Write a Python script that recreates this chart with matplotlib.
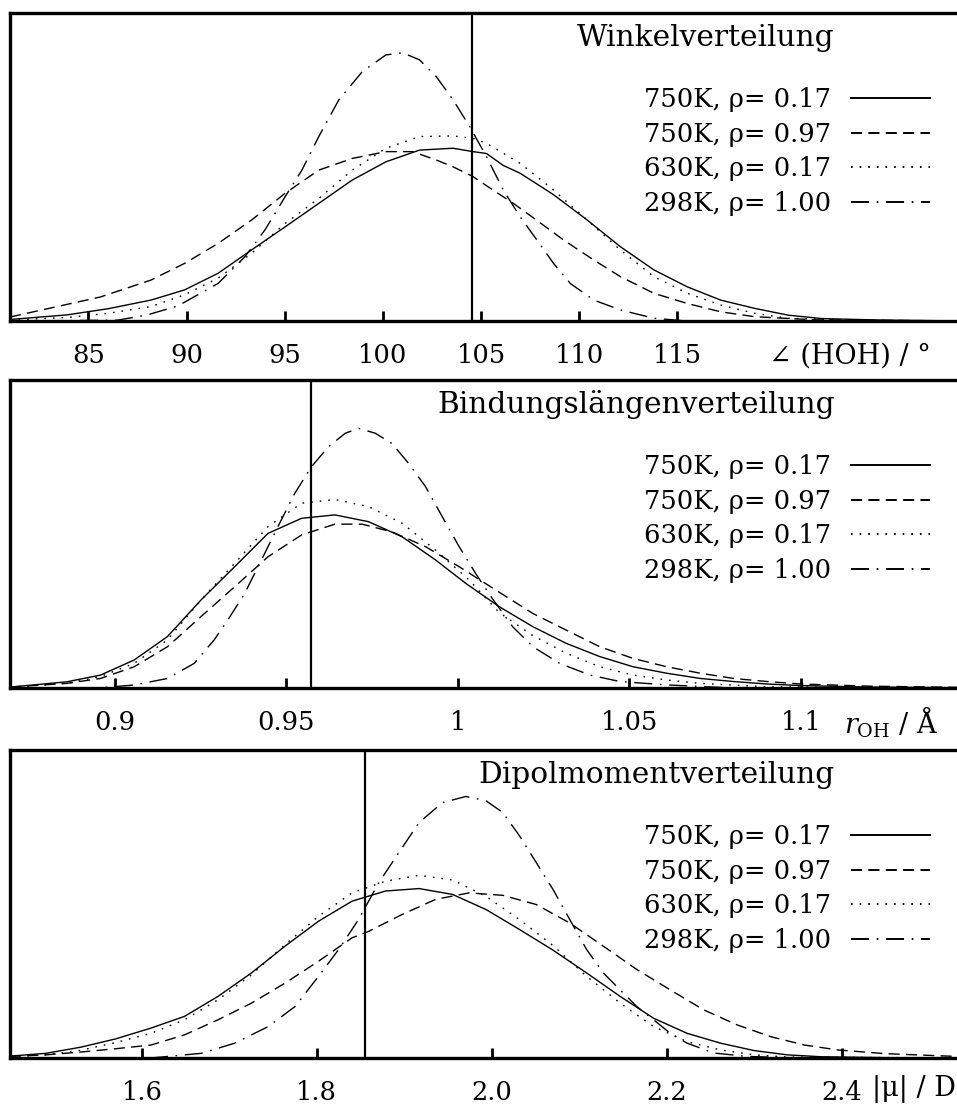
import matplotlib
matplotlib.use("Agg")
import matplotlib.pyplot as plt
from matplotlib.lines import Line2D

plt.rcParams["font.family"] = ["DejaVu Serif", "DejaVu Sans"]
plt.rcParams["mathtext.fontset"] = "dejavuserif"
plt.rcParams["lines.scale_dashes"] = False

# labels of the four simulations
labels = ["750K, ρ= 0.17", "750K, ρ= 0.97", "630K, ρ= 0.17", "298K, ρ= 1.00"]

# --- angle distribution (HOH angle in degrees) ---
ang_x_a = [81, 83.9, 86, 88.18, 89.89, 91.6, 93.31, 95.02, 96.73, 98.44, 100.15, 101.86, 103.57, 104.59, 105.27,
           106.13, 106.98, 107.84, 108.69, 110.4, 112.1, 113.8, 115.5, 117.2, 118.94, 120.65, 122.36, 125.5, 130]
ang_y_a = [0.005, 0.02, 0.04, 0.068, 0.101, 0.155, 0.231, 0.306, 0.382, 0.458, 0.517, 0.555, 0.561, 0.55, 0.544,
           0.505, 0.48, 0.445, 0.41, 0.328, 0.241, 0.166, 0.111, 0.068, 0.041, 0.019, 0.008, 0.003, 0.0]
ang_x_b = [81, 82.2, 85.6, 88.18, 89.89, 91.6, 93.31, 95.02, 96.73, 98.44, 100.15, 101.5, 102.71, 103.56, 104.58,
           105.61, 106.64, 107.66, 109.2, 110.74, 112.1, 113.8, 115.5, 117.2, 118.94, 122, 130]
ang_y_b = [0.013, 0.03, 0.078, 0.133, 0.187, 0.252, 0.328, 0.415, 0.49, 0.528, 0.55, 0.55, 0.523, 0.501, 0.469,
           0.425, 0.382, 0.335, 0.263, 0.198, 0.144, 0.09, 0.057, 0.03, 0.014, 0.004, 0.0]
ang_x_c = [81, 84, 86, 88.18, 89.89, 91.6, 93.31, 95.02, 96.73, 98.44, 100.15, 101.86, 103.57, 104.59, 105.27,
           106.13, 106.98, 107.84, 108.69, 110.4, 112.1, 113.8, 115.5, 117.2, 118.94, 120.65, 124, 130]
ang_y_c = [0.003, 0.012, 0.025, 0.047, 0.085, 0.139, 0.22, 0.317, 0.398, 0.49, 0.561, 0.599, 0.601, 0.593, 0.577,
           0.545, 0.512, 0.469, 0.425, 0.328, 0.23, 0.144, 0.09, 0.052, 0.025, 0.009, 0.002, 0.0]
ang_x_d = [81, 86.5, 88, 89.55, 91.6, 92.97, 93.99, 95.02, 95.87, 96.73, 97.75, 98.95, 100.15, 101.0, 101.86,
           102.71, 103.57, 104.42, 105.27, 106.13, 106.98, 107.84, 108.69, 109.54, 110.74, 112.1, 113.8, 115.5, 130]
ang_y_d = [0.0, 0.003, 0.02, 0.049, 0.122, 0.209, 0.296, 0.404, 0.49, 0.599, 0.718, 0.81, 0.864, 0.871, 0.848,
           0.794, 0.718, 0.631, 0.534, 0.425, 0.339, 0.263, 0.187, 0.122, 0.068, 0.036, 0.009, 0.0, 0.0]

# --- bond length distribution (r_OH in Angstrom) ---
bond_x_a = [0.8695, 0.886, 0.8959, 0.9057, 0.9154, 0.9252, 0.935, 0.9447, 0.9545, 0.9642, 0.974, 0.9838, 0.9935,
            1.0023, 1.0121, 1.0219, 1.0316, 1.0414, 1.0511, 1.0609, 1.0707, 1.0804, 1.0902, 1.1, 1.12, 1.147]
bond_y_a = [0.003, 0.02, 0.042, 0.091, 0.167, 0.286, 0.394, 0.502, 0.551, 0.562, 0.54, 0.491, 0.416,
            0.34, 0.264, 0.199, 0.145, 0.102, 0.069, 0.048, 0.031, 0.021, 0.013, 0.008, 0.003, 0.001]
bond_x_b = [0.8695, 0.886, 0.8959, 0.9057, 0.9154, 0.9252, 0.935, 0.9447, 0.9545, 0.9642, 0.9721, 0.9808, 0.9906,
            1.0004, 1.0101, 1.0219, 1.0316, 1.0414, 1.0511, 1.0609, 1.0707, 1.0804, 1.0902, 1.1, 1.12, 1.147]
bond_y_b = [0.003, 0.015, 0.031, 0.069, 0.134, 0.232, 0.329, 0.426, 0.497, 0.532, 0.532, 0.507, 0.459,
            0.394, 0.325, 0.242, 0.188, 0.134, 0.096, 0.069, 0.048, 0.031, 0.021, 0.013, 0.006, 0.002]
bond_x_c = [0.8695, 0.886, 0.8959, 0.9057, 0.9154, 0.9252, 0.935, 0.9447, 0.9545, 0.9642, 0.974, 0.9838, 0.9935,
            1.0033, 1.0121, 1.0219, 1.0316, 1.0414, 1.0511, 1.0609, 1.0707, 1.0902, 1.147]
bond_y_c = [0.002, 0.015, 0.037, 0.08, 0.156, 0.286, 0.405, 0.524, 0.60, 0.612, 0.589, 0.535, 0.448,
            0.351, 0.245, 0.17, 0.113, 0.069, 0.042, 0.026, 0.015, 0.004, 0.0]
bond_x_d = [0.8695, 0.895, 0.9057, 0.9154, 0.9232, 0.929, 0.933, 0.9379, 0.9428, 0.9476, 0.9525, 0.9574, 0.9623,
            0.9672, 0.9711, 0.976, 0.9808, 0.9857, 0.9906, 0.9955, 1.0004, 1.0052, 1.0101, 1.016, 1.0219, 1.0297,
            1.0385, 1.0473, 1.061, 1.0804, 1.147]
bond_y_d = [0.0, 0.0, 0.0097, 0.031, 0.08, 0.156, 0.221, 0.307, 0.416, 0.524, 0.632, 0.719, 0.783,
            0.827, 0.843, 0.827, 0.794, 0.729, 0.654, 0.556, 0.459, 0.372, 0.29, 0.199, 0.134, 0.08,
            0.042, 0.021, 0.01, 0.0, 0.0]

# --- dipole moment distribution (|mu| in Debye) ---
dip_x_a = [1.449, 1.49, 1.53, 1.57, 1.6103, 1.6486, 1.687, 1.7252, 1.7636, 1.8019, 1.8402, 1.8785, 1.9168, 1.9551,
           1.9934, 2.0318, 2.0701, 2.1085, 2.1468, 2.1851, 2.2234, 2.2617, 2.3, 2.3383, 2.3766, 2.45, 2.54]
dip_y_a = [0.006, 0.015, 0.035, 0.062, 0.097, 0.135, 0.2, 0.276, 0.363, 0.444, 0.509, 0.542, 0.55, 0.531,
           0.482, 0.417, 0.35, 0.276, 0.2, 0.129, 0.08, 0.048, 0.024, 0.01, 0.004, 0.001, 0.0]
dip_x_b = [1.449, 1.49, 1.533, 1.57, 1.6103, 1.6486, 1.687, 1.7252, 1.7636, 1.8019, 1.8402, 1.8593, 1.8976, 1.9359,
           1.9742, 2.0126, 2.051, 2.0893, 2.1276, 2.166, 2.2042, 2.2425, 2.2809, 2.3192, 2.3575, 2.3958, 2.45, 2.54]
dip_y_b = [0.005, 0.01, 0.02, 0.03, 0.042, 0.075, 0.124, 0.178, 0.243, 0.314, 0.39, 0.411, 0.466, 0.515,
           0.536, 0.528, 0.498, 0.438, 0.363, 0.287, 0.221, 0.156, 0.107, 0.069, 0.042, 0.026, 0.014, 0.004]
dip_x_c = [1.449, 1.49, 1.53, 1.57, 1.6103, 1.6486, 1.687, 1.7252, 1.7636, 1.8019, 1.8402, 1.8785, 1.9168, 1.9551,
           1.9934, 2.0318, 2.0701, 2.1085, 2.1468, 2.1851, 2.2234, 2.2617, 2.3, 2.3383, 2.54]
dip_y_c = [0.004, 0.01, 0.025, 0.05, 0.08, 0.124, 0.189, 0.27, 0.368, 0.46, 0.536, 0.574, 0.593, 0.578,
           0.525, 0.449, 0.365, 0.265, 0.178, 0.102, 0.053, 0.026, 0.01, 0.003, 0.0]
dip_x_d = [1.449, 1.6103, 1.6678, 1.706, 1.7444, 1.775, 1.8019, 1.8249, 1.8478, 1.8708, 1.8938, 1.9168, 1.9436,
           1.9705, 1.9934, 2.0126, 2.0318, 2.051, 2.0701, 2.0893, 2.1085, 2.1276, 2.1468, 2.1659, 2.1851, 2.2042,
           2.2234, 2.254, 2.2924, 2.35, 2.54]
dip_y_d = [0.0, 0.0, 0.015, 0.048, 0.102, 0.167, 0.265, 0.352, 0.45, 0.569, 0.667, 0.764, 0.829,
           0.849, 0.835, 0.797, 0.721, 0.634, 0.547, 0.449, 0.352, 0.276, 0.221, 0.167, 0.124, 0.08,
           0.048, 0.016, 0.005, 0.0, 0.0]

# reference values (gas phase geometry) drawn as vertical lines
ref_angle = 104.52
ref_bond = 0.9572
ref_dipole = 1.855

panels = [
    {
        "title": "Winkelverteilung",
        "curves": [(ang_x_a, ang_y_a), (ang_x_b, ang_y_b), (ang_x_c, ang_y_c), (ang_x_d, ang_y_d)],
        "ref": ref_angle,
        "xlim": (81, 129.5),
        "ticks": [85, 90, 95, 100, 105, 110, 115],
        "ticklabels": ["85", "90", "95", "100", "105", "110", "115"],
        "xlabel": "∠ (HOH) / °",
        "xlabel_pos": (0.797, -0.113),
    },
    {
        "title": "Bindungslängenverteilung",
        "curves": [(bond_x_a, bond_y_a), (bond_x_b, bond_y_b), (bond_x_c, bond_y_c), (bond_x_d, bond_y_d)],
        "ref": ref_bond,
        "xlim": (0.8695, 1.147),
        "ticks": [0.9, 0.95, 1.0, 1.05, 1.1],
        "ticklabels": ["0.9", "0.95", "1", "1.05", "1.1"],
        "xlabel": r"$r_{\rm OH}$ / Å",
        "xlabel_pos": (0.876, -0.11),
    },
    {
        "title": "Dipolmomentverteilung",
        "curves": [(dip_x_a, dip_y_a), (dip_x_b, dip_y_b), (dip_x_c, dip_y_c), (dip_x_d, dip_y_d)],
        "ref": ref_dipole,
        "xlim": (1.449, 2.538),
        "ticks": [1.6, 1.8, 2.0, 2.2, 2.4],
        "ticklabels": ["1.6", "1.8", "2.0", "2.2", "2.4"],
        "xlabel": "|μ| / D",
        "xlabel_pos": (0.905, -0.10),
    },
]

styles = ["-", (0, (8, 4.5)), (0, (1.2, 5)), (0, (13, 5.5, 1.2, 5.5))]

fig = plt.figure(figsize=(9.57, 11.04), dpi=100)
bottoms = [0.7092, 0.3768, 0.0417]
height = 0.279

fs = 18.5
fs_title = 21.3

for p, b in zip(panels, bottoms):
    ax = fig.add_axes([0.0104, b, 0.995, height])
    for (xs, ys), ls, lab in zip(p["curves"], styles, labels):
        ax.plot(xs, ys, color="black", lw=1.0, linestyle=ls, label=lab)
    ax.axvline(p["ref"], color="black", lw=1.6)
    ax.set_xlim(*p["xlim"])
    ax.set_ylim(0, 1)
    ax.set_yticks([])
    ax.set_xticks(p["ticks"])
    ax.set_xticklabels(p["ticklabels"], fontsize=fs)
    ax.tick_params(axis="x", direction="in", length=7, width=2, pad=16)
    for s in ["top", "bottom", "left"]:
        ax.spines[s].set_linewidth(2.4)
    ax.spines["right"].set_visible(False)

    ax.text(0.866, 0.92, p["title"], transform=ax.transAxes,
            ha="right", va="center", fontsize=fs_title)
    ax.text(p["xlabel_pos"][0], p["xlabel_pos"][1], p["xlabel"], transform=ax.transAxes,
            ha="left", va="center", fontsize=19.5)

    handles = [Line2D([], [], color="black", lw=1.4, linestyle=ls) for ls in styles]
    ax.legend(handles, labels, loc="upper right", bbox_to_anchor=(0.98, 0.80),
              frameon=False, markerfirst=False, fontsize=fs, handlelength=3.1,
              handletextpad=0.75, labelspacing=0.37, borderpad=0.0)

fig.savefig("out.png", dpi=100)
